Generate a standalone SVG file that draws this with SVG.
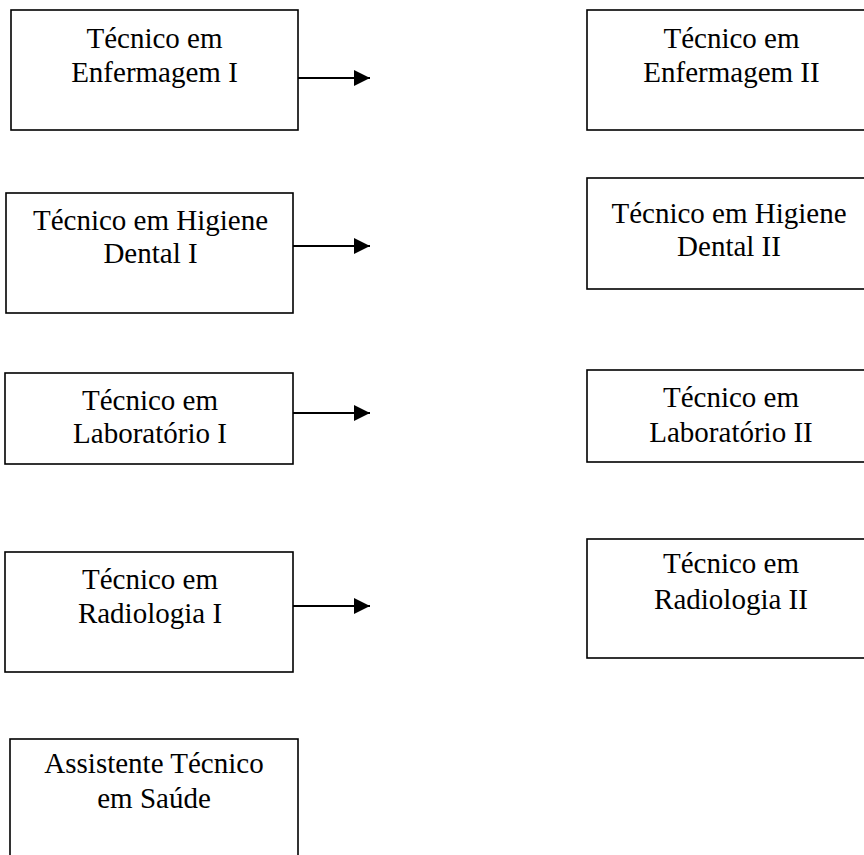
<svg xmlns="http://www.w3.org/2000/svg" width="864" height="855" viewBox="0 0 864 855">
<style>
.box{fill:#fff;stroke:#000;stroke-width:1.6}
.t{font-family:"Liberation Serif","Times New Roman",serif;font-size:29px;fill:#000;text-anchor:middle}
.c{stroke:#000;stroke-width:2;fill:none}
</style>
<defs>
<marker id="ah" markerUnits="userSpaceOnUse" markerWidth="17" markerHeight="16" refX="16" refY="8" orient="auto">
<path d="M0,0 L16,8 L0,16 Z" fill="#000"/>
</marker>
</defs>
<rect width="864" height="855" fill="#fff"/>
<g id="n1"><rect class="box" x="11" y="10" width="287" height="120"/><text class="t" x="154.5" y="48">Técnico em</text><text class="t" x="154.5" y="82">Enfermagem I</text></g>
<g id="n2"><rect class="box" x="587" y="10" width="300" height="120"/><text class="t" x="731.5" y="48">Técnico em</text><text class="t" x="731.5" y="82">Enfermagem II</text></g>
<g id="n3"><rect class="box" x="6" y="193" width="287" height="120"/><text class="t" x="150.5" y="230">Técnico em Higiene</text><text class="t" x="150.5" y="263">Dental I</text></g>
<g id="n4"><rect class="box" x="587" y="178" width="300" height="111"/><text class="t" x="729" y="223">Técnico em Higiene</text><text class="t" x="729" y="256">Dental II</text></g>
<g id="n5"><rect class="box" x="5" y="373" width="288" height="91"/><text class="t" x="150" y="410">Técnico em</text><text class="t" x="150" y="443">Laboratório I</text></g>
<g id="n6"><rect class="box" x="587" y="370" width="300" height="92"/><text class="t" x="731" y="407">Técnico em</text><text class="t" x="731" y="442">Laboratório II</text></g>
<g id="n7"><rect class="box" x="5" y="552" width="288" height="120"/><text class="t" x="150" y="589">Técnico em</text><text class="t" x="150" y="623">Radiologia I</text></g>
<g id="n8"><rect class="box" x="587" y="539" width="300" height="119"/><text class="t" x="731" y="573">Técnico em</text><text class="t" x="731" y="609">Radiologia II</text></g>
<g id="n9"><rect class="box" x="10" y="739" width="288" height="140"/><text class="t" x="154" y="773">Assistente Técnico</text><text class="t" x="154" y="808">em Saúde</text></g>
<g id="connectors">
<line class="c" x1="298" y1="78" x2="370" y2="78" marker-end="url(#ah)"/>
<line class="c" x1="293" y1="246" x2="370" y2="246" marker-end="url(#ah)"/>
<line class="c" x1="293" y1="413" x2="370" y2="413" marker-end="url(#ah)"/>
<line class="c" x1="293" y1="606" x2="370" y2="606" marker-end="url(#ah)"/>
</g>
</svg>
